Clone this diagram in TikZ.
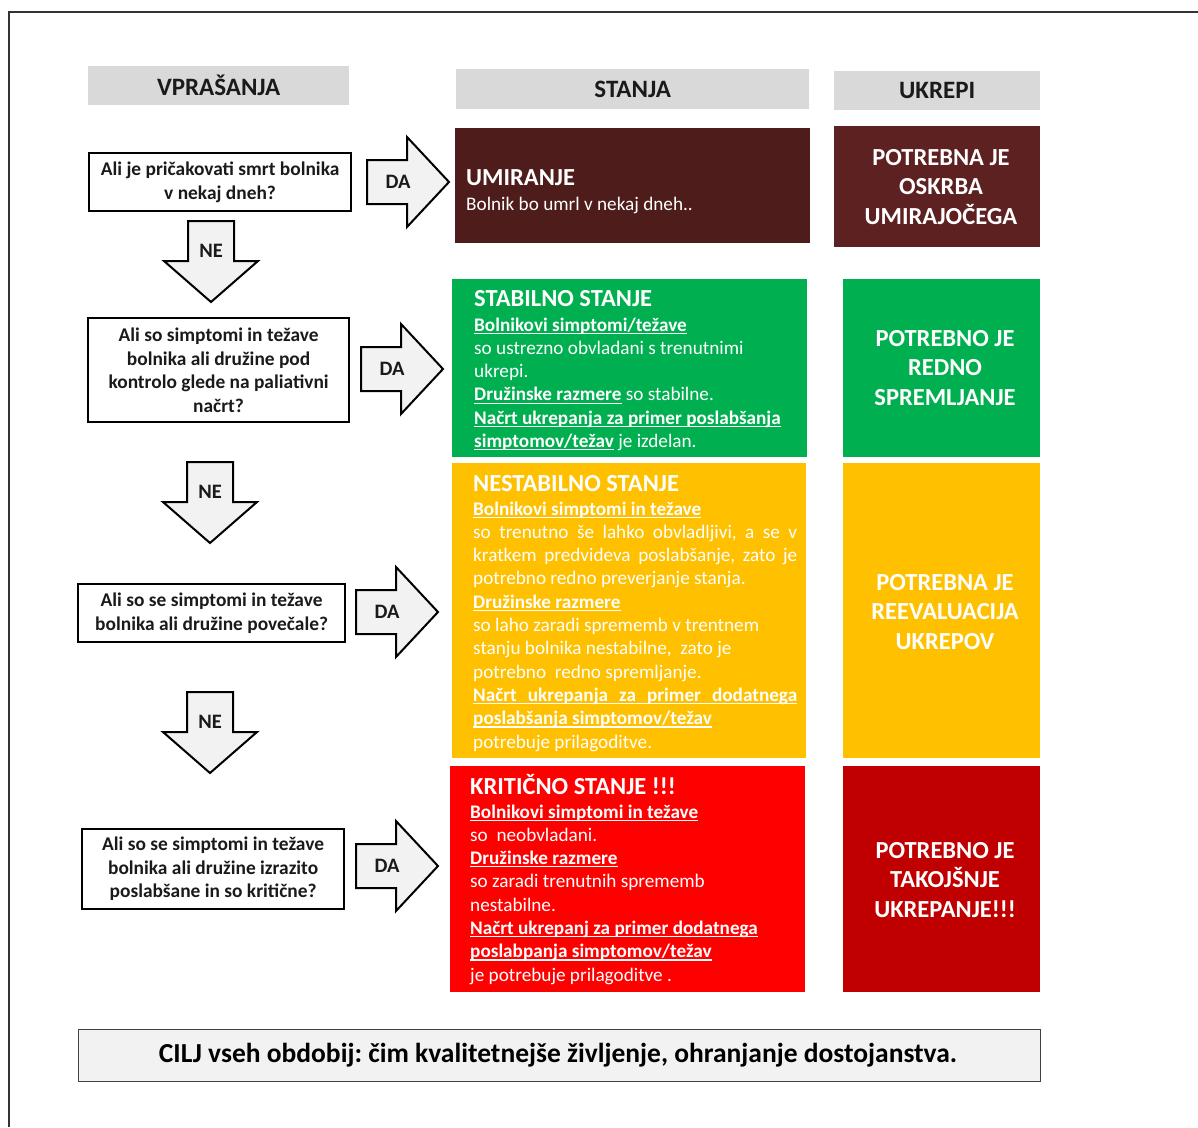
\documentclass[tikz,border=0pt]{standalone}
\usepackage{fontspec}
\setmainfont{Carlito}
\frenchspacing
\definecolor{hdrgray}{HTML}{D9D9D9}
\definecolor{arrgray}{HTML}{F2F2F2}
\definecolor{maroonA}{HTML}{4F1C1C}
\definecolor{maroonB}{HTML}{5E2121}
\definecolor{stgreen}{HTML}{00B050}
\definecolor{styellow}{HTML}{FFC000}
\definecolor{stred}{HTML}{FF0000}
\definecolor{stdred}{HTML}{C00000}
\definecolor{txtdark}{HTML}{1A1A1A}
\newcommand\rs{\spaceskip=0pt\xspaceskip=0pt\relax}
\newcommand\ul[1]{\leavevmode\setbox0\hbox{#1}\rlap{\rule[-2.8pt]{\wd0}{1.2pt}}\box0\relax}
\newcommand\jl[1]{\makebox[\linewidth][s]{#1}}
\newcommand\DAarrow[4]{% name, x0, cy
  \draw[blockarr] (#2,#3-22) -- (#2+40,#3-22) -- (#2+40,#3-45) -- (#2+82,#3) -- (#2+40,#3+45) -- (#2+40,#3+22) -- (#2,#3+22) -- cycle;
  \node[arrlbl] (#1) at (#2+31,#3) {#4};}
\newcommand\NEarrow[4]{% name, cx, y0
  \draw[blockarr] (#2-23,#3) -- (#2+23,#3) -- (#2+23,#3+40) -- (#2+47,#3+40) -- (#2,#3+81) -- (#2-47,#3+40) -- (#2-23,#3+40) -- cycle;
  \node[arrlbl] (#1) at (#2,#3+30) {#4};}
\begin{document}
\begin{tikzpicture}[x=1pt,y=-1pt,
  hdr/.style={fill=hdrgray, inner sep=0, anchor=north west, text=txtdark, font=\bfseries\fontsize{25}{28}\selectfont},
  qbox/.style={draw=black, line width=2.2pt, fill=white, inner sep=0, anchor=north west},
  qtext/.style={align=center, text=txtdark, inner sep=0, font=\bfseries\fontsize{19.4}{23.5}\selectfont},
  stbox/.style={inner sep=0, anchor=north west},
  sttitle/.style={text=white, inner sep=0, anchor=base west, font=\bfseries\fontsize{24.5}{28}\selectfont},
  stbody/.style={text=white, inner sep=0, anchor=base west, align=left, text width=324pt, font=\fontsize{19.2}{23.3}\selectfont},
  acttext/.style={text=white, inner sep=0, align=center, font=\bfseries\fontsize{24.5}{29.5}\selectfont},
  blockarr/.style={draw=black, line width=2pt, fill=arrgray, line join=miter},
  arrlbl/.style={inner sep=0, text=txtdark, font=\bfseries\fontsize{20.5}{22}\selectfont}]
\useasboundingbox (0,0) rectangle (1198,1127);
\fill[white] (0,0) rectangle (1198,1127);
% outer frame (only left and top visible)
\draw[line width=1.6pt, black!80] (9,1127) -- (9,12) -- (1198,12);

% headers
\node[hdr, minimum width=261pt, minimum height=39pt] (hq) at (88,66) {VPRAŠANJA};
\node[hdr, minimum width=353pt, minimum height=40pt] (hs) at (456,69) {STANJA};
\node[hdr, minimum width=206pt, minimum height=39pt] (hu) at (834,71) {UKREPI};

% question boxes
\node[qbox, minimum width=262pt, minimum height=58pt] (q1) at (88,152) {};
\node[qtext] (q1t) at (q1.center) {\rs Ali je pričakovati smrt bolnika\\v nekaj dneh?};
\node[qbox, minimum width=261pt, minimum height=104pt] (q2) at (87,317) {};
\node[qtext] (q2t) at (q2.center) {\rs Ali so simptomi in težave\\bolnika ali družine pod\\kontrolo glede na paliativni\\načrt?};
\node[qbox, minimum width=267pt, minimum height=58pt] (q3) at (77,583) {};
\node[qtext] (q3t) at (q3.center) {\rs Ali so se simptomi in težave\\bolnika ali družine povečale?};
\node[qbox, minimum width=262pt, minimum height=80pt] (q4) at (81,828) {};
\node[qtext] (q4t) at (q4.center) {\rs Ali so se simptomi in težave\\bolnika ali družine izrazito\\poslabšane in so kritične?};

% arrows
\DAarrow{da1}{367}{182}{DA}
\DAarrow{da2}{361}{369}{DA}
\DAarrow{da3}{356}{612}{DA}
\DAarrow{da4}{356}{866}{DA}
\NEarrow{ne1}{211}{221}{NE}
\NEarrow{ne2}{210}{462}{NE}
\NEarrow{ne3}{210}{692}{NE}

% state boxes
\node[stbox, fill=maroonA, minimum width=355pt, minimum height=115pt] (s1) at (455,128) {};
\node[sttitle] (s1t) at (466,185) {UMIRANJE};
\node[stbody] (s1b) at (466,210) {\rs Bolnik bo umrl v nekaj dneh..};

\node[stbox, fill=stgreen, minimum width=355pt, minimum height=178pt] (s2) at (452,279) {};
\node[sttitle] (s2t) at (474,306.5) {STABILNO STANJE};
\node[stbody] (s2b) at (474,331) {\rs\ul{\textbf{Bolnikovi simptomi/težave}}\\
so ustrezno obvladani s trenutnimi\\
ukrepi.\\
\ul{\textbf{Družinske razmere}} so stabilne.\\
\ul{\textbf{Načrt ukrepanja za primer poslabšanja}}\\
\ul{\textbf{simptomov/težav}} je izdelan.};

\node[stbox, fill=styellow, minimum width=354pt, minimum height=295pt] (s3) at (452,463) {};
\node[sttitle] (s3t) at (473,491.5) {NESTABILNO STANJE};
\node[stbody] (s3b) at (473,515) {\rs\ul{\textbf{Bolnikovi simptomi in težave}}\\
\jl{so trenutno še lahko obvladljivi, a se v}\\
\jl{kratkem predvideva poslabšanje, zato je}\\
potrebno redno preverjanje stanja.\\
\ul{\textbf{Družinske razmere}}\\
so laho zaradi sprememb v trentnem\\
stanju bolnika nestabilne,~ zato je\\
potrebno~ redno spremljanje.\\
\ul{\textbf{\jl{Načrt ukrepanja za primer dodatnega}}}\\
\ul{\textbf{poslabšanja simptomov/težav}}\\
potrebuje prilagoditve.};

\node[stbox, fill=stred, minimum width=355pt, minimum height=226pt] (s4) at (450,766) {};
\node[sttitle] (s4t) at (470,794.5) {KRITIČNO STANJE !!!};
\node[stbody] (s4b) at (470,818) {\rs\ul{\textbf{Bolnikovi simptomi in težave}}\\
so~ neobvladani.\\
\ul{\textbf{Družinske razmere}}\\
so zaradi trenutnih sprememb\\
nestabilne.\\
\ul{\textbf{Načrt ukrepanj za primer dodatnega}}\\
\ul{\textbf{poslabpanja simptomov/težav}}\\
je potrebuje prilagoditve .};

% action boxes
\node[stbox, fill=maroonB, minimum width=206pt, minimum height=121pt] (a1) at (834,126) {};
\node[acttext] (a1t) at (941,187) {\rs POTREBNA JE\\OSKRBA\\UMIRAJOČEGA};
\node[stbox, fill=stgreen, minimum width=197pt, minimum height=178pt] (a2) at (843,279) {};
\node[acttext] (a2t) at (945,368) {\rs POTREBNO JE\\REDNO\\SPREMLJANJE};
\node[stbox, fill=styellow, minimum width=197pt, minimum height=295pt] (a3) at (843,463) {};
\node[acttext] (a3t) at (945,612) {\rs POTREBNA JE\\REEVALUACIJA\\UKREPOV};
\node[stbox, fill=stdred, minimum width=197pt, minimum height=226pt] (a4) at (843,766) {};
\node[acttext] (a4t) at (945,880) {\rs POTREBNO JE\\TAKOJŠNJE\\UKREPANJE!!!};

% goal box
\node[draw=black!75, line width=1.2pt, fill=arrgray, inner sep=0, anchor=north west, minimum width=962pt, minimum height=52pt] (goal) at (78,1029) {};
\node[inner sep=0, text=black, font=\bfseries\fontsize{27.5}{30}\selectfont] (goalt) at (558,1055) {CILJ vseh obdobij: čim kvalitetnejše življenje, ohranjanje dostojanstva.};
\end{tikzpicture}
\end{document}
